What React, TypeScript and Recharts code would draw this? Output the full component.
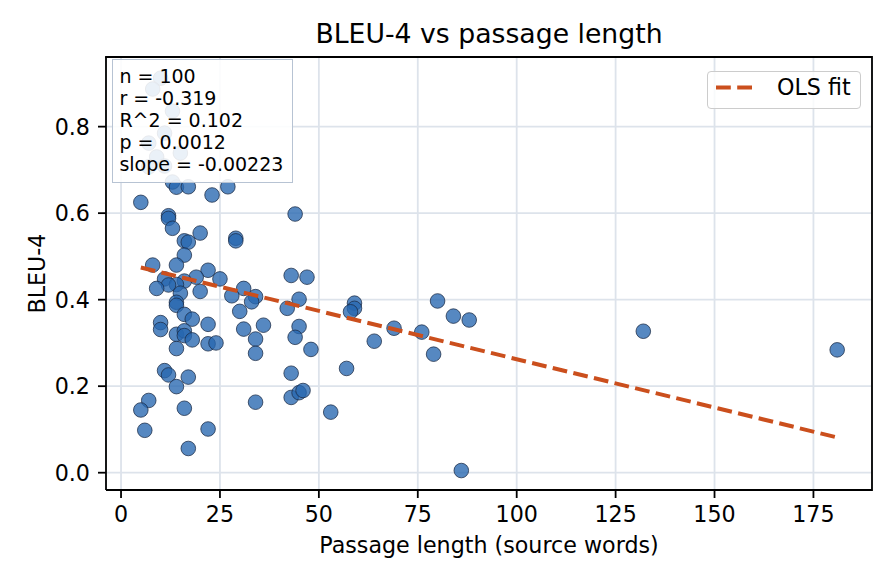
import React from 'react';
import { ScatterChart, Scatter, XAxis, YAxis, CartesianGrid, Legend, Label } from 'recharts';

const FONT = '"DejaVu Sans", sans-serif';

// Passage length (source words) for each sample
const passageLengths = [
  10, 8, 13, 11, 7, 15, 9, 11, 13, 14,
  17, 23, 27, 5, 44, 12, 12, 13, 20, 16,
  17, 29, 29, 16, 8, 14, 22, 19, 25, 11,
  16, 14, 12, 9, 15, 20, 43, 47, 31, 28,
  34, 33, 14, 14, 45, 42, 30, 16, 18, 10,
  10, 22, 36, 45, 31, 14, 16, 16, 34, 44,
  18, 22, 24, 48, 14, 34, 43, 11, 12, 17,
  14, 7, 5, 16, 34, 43, 45, 46, 6, 22,
  17, 59, 59, 58, 80, 84, 88, 69, 76, 64,
  79, 57, 53, 86, 132, 181, 7,
];

// BLEU-4 score for each sample
const bleuScores = [
  0.912, 0.887, 0.836, 0.785, 0.762, 0.739, 0.730, 0.709, 0.672, 0.660,
  0.661, 0.642, 0.661, 0.625, 0.598, 0.594, 0.588, 0.565, 0.554, 0.536,
  0.533, 0.542, 0.536, 0.503, 0.480, 0.480, 0.468, 0.452, 0.448, 0.448,
  0.443, 0.435, 0.434, 0.426, 0.415, 0.419, 0.456, 0.452, 0.426, 0.409,
  0.407, 0.395, 0.394, 0.387, 0.401, 0.380, 0.373, 0.366, 0.355, 0.347,
  0.331, 0.343, 0.341, 0.338, 0.332, 0.320, 0.328, 0.317, 0.309, 0.313,
  0.307, 0.298, 0.300, 0.285, 0.287, 0.276, 0.230, 0.236, 0.226, 0.221,
  0.199, 0.167, 0.145, 0.149, 0.163, 0.174, 0.185, 0.190, 0.098, 0.101,
  0.056, 0.392, 0.380, 0.372, 0.397, 0.362, 0.353, 0.334, 0.325, 0.304,
  0.274, 0.241, 0.140, 0.005, 0.327, 0.284, 0.707,
];

// OLS fit line end points
const fitLengths = [5, 181];
const fitBleu = [0.4745, 0.0815];

const xTicks = [0, 25, 50, 75, 100, 125, 150, 175];
const yTicks = [0, 0.2, 0.4, 0.6, 0.8];
const statsLines = ['n = 100', 'r = -0.319', 'R^2 = 0.102', 'p = 0.0012', 'slope = -0.00223'];

const points = passageLengths.map((x, i) => ({ x, y: bleuScores[i] }));
const fitData = fitLengths.map((x, i) => ({ x, y: fitBleu[i] }));

const X_DOMAIN: [number, number] = [-3.8, 189.8];
const Y_DOMAIN: [number, number] = [-0.04, 0.961];

const POINT_FILL = '#2767b0';
const FIT_COLOR = '#cb4f1d';
const AXIS_STYLE = { stroke: '#000', strokeWidth: 1.8 };

const Dot = (props: any) => {
  const { cx, cy } = props;
  if (cx == null || cy == null) return <g />;
  return (
    <circle cx={cx} cy={cy} r={7.3} fill={POINT_FILL} fillOpacity={0.78} stroke="#1b2b45" strokeOpacity={0.75} strokeWidth={1} />
  );
};

const NoShape = () => <g />;

const YLabel = (props: any) => {
  const vb = props.viewBox || { x: 0, y: 57, width: 106, height: 433 };
  const cx = 37;
  const cy = vb.y + vb.height / 2;
  return (
    <text x={cx} y={cy} transform={`rotate(-90 ${cx} ${cy})`} textAnchor="middle" dominantBaseline="central"
      style={{ fontFamily: FONT, fontSize: 22.2, fill: '#000' }}>
      BLEU-4
    </text>
  );
};

const renderLegend = () => (
  <div style={{ position: 'relative', width: 154, height: 38, boxSizing: 'border-box', border: '1.5px solid #cccccc', borderRadius: 4, background: 'rgba(255,255,255,0.8)', fontFamily: FONT, fontSize: 22.2, color: '#000' }}>
    <svg style={{ position: 'absolute', left: 8, top: 0 }} width={40} height={34}>
      <line x1={0} y1={15.5} x2={38} y2={15.5} stroke={FIT_COLOR} strokeWidth={4} strokeDasharray="14.8 6.4" />
    </svg>
    <span style={{ position: 'absolute', left: 69, top: 4, lineHeight: '22px', whiteSpace: 'nowrap' }}>OLS fit</span>
  </div>
);

export default function App() {
  return (
    <div style={{ position: 'absolute', left: 0, top: 0, width: 896, height: 584, background: '#fff', fontFamily: FONT }}>
      <ScatterChart width={896} height={584} margin={{ top: 57, right: 24, bottom: 0, left: 0 }}>
        <CartesianGrid stroke="#dde3eb" strokeWidth={1.8} />
        <XAxis
          type="number" dataKey="x" domain={X_DOMAIN} ticks={xTicks} allowDataOverflow interval={0}
          height={94} tickSize={8} tickMargin={8}
          axisLine={AXIS_STYLE} tickLine={AXIS_STYLE}
          tick={{ fill: '#000', fontSize: 22.2, fontFamily: FONT }}
        >
          <Label value="Passage length (source words)" position="insideBottom" offset={31}
            style={{ fontSize: 22.2, fontFamily: FONT, fill: '#000' }} />
        </XAxis>
        <YAxis
          type="number" dataKey="y" domain={Y_DOMAIN} ticks={yTicks} allowDataOverflow interval={0}
          width={106} tickSize={8} tickMargin={8}
          tickFormatter={(v: number) => v.toFixed(1)}
          axisLine={AXIS_STYLE} tickLine={AXIS_STYLE}
          tick={{ fill: '#000', fontSize: 22.2, fontFamily: FONT }}
        >
          <Label content={YLabel} />
        </YAxis>
        <Scatter name="samples" data={points} shape={Dot} isAnimationActive={false} legendType="none" />
        <Scatter name="OLS fit" data={fitData} shape={NoShape} isAnimationActive={false}
          line={{ stroke: FIT_COLOR, strokeWidth: 4, strokeDasharray: '14.8 6.4' }} lineType="joint" />
        <Legend layout="horizontal" verticalAlign="middle" align="center" content={renderLegend}
          wrapperStyle={{ position: 'absolute', left: 707, top: 70.7, width: 154, height: 38 }} />
      </ScatterChart>
      {/* top and right spines of the plot frame */}
      <svg width={896} height={584} style={{ position: 'absolute', left: 0, top: 0, pointerEvents: 'none', overflow: 'visible' }}>
        <path d="M105.1 57 H872 V490.9" fill="none" stroke="#000" strokeWidth={1.8} />
      </svg>
      <div style={{ position: 'absolute', left: 106, top: 21.4, width: 766, textAlign: 'center', fontSize: 26.7, lineHeight: '26.7px', color: '#000', whiteSpace: 'nowrap' }}>
        BLEU-4 vs passage length
      </div>
      <div style={{ position: 'absolute', left: 112, top: 59, width: 181, height: 124, boxSizing: 'border-box', border: '1.5px solid #b7c3d3', background: 'rgba(255,255,255,0.88)', paddingTop: 4.9, paddingLeft: 6.4, fontSize: 19, lineHeight: '22px', color: '#000' }}>
        {statsLines.map((s) => (
          <div key={s} style={{ whiteSpace: 'nowrap' }}>{s}</div>
        ))}
      </div>
    </div>
  );
}
